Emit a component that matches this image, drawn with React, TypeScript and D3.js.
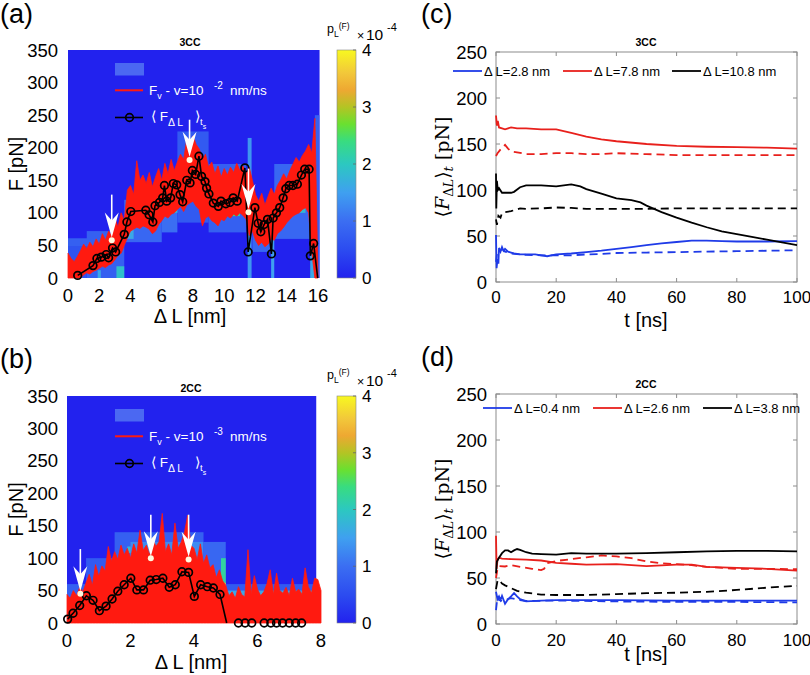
import React from 'react';
import * as d3 from 'd3';

// ---------------- DATA ----------------
// colour map of p_L(F) (x10^-4)
const cmapStops = [0, 0.5, 1, 1.5, 2, 2.4, 2.7, 3, 3.3, 3.6, 4];
const cmapColors = ['#2222ee', '#2c4cf0', '#3b6ef2', '#3fa0f0', '#2cc8c0', '#38dc80', '#6ae030', '#b4c424', '#eea832', '#f2c83a', '#f8f820'];
const colorbarTicks = [0, 1, 2, 3, 4];

// heat-map cells: [ΔL0, ΔL1, F0, F1, p_L (x10^-4)]
const heatA: [number, number, number, number, number][] = [
  [0, 1.2, 0, 58, 0.6], [0, 1.85, 49, 61, 0.8], [1.2, 3.6, 0, 72, 0.8], [1.9, 2.1, 0, 12, 1.6],
  [3.1, 3.6, 0, 18, 1.9], [3.6, 6.0, 55, 120, 0.9], [3.8, 4.2, 60, 80, 1.6], [6.0, 7.0, 70, 150, 1.0],
  [6.5, 7.5, 100, 130, 1.8], [7.0, 9.0, 85, 225, 0.7], [7.3, 8.0, 120, 140, 2.2], [9.0, 11.4, 70, 175, 0.8],
  [9.4, 11.0, 95, 110, 2.3], [11.5, 11.75, 0, 215, 1.4], [11.8, 13.0, 40, 110, 0.9], [12.0, 12.5, 60, 80, 1.8],
  [13.0, 13.2, 0, 60, 1.5], [13.2, 15.5, 60, 175, 0.9], [14.0, 15.2, 100, 125, 1.8], [15.5, 15.8, 0, 55, 1.6],
  [15.8, 16.1, 0, 250, 0.8],
];
const heatB: [number, number, number, number, number][] = [
  [0, 0.6, 0, 60, 0.8], [0.6, 1.5, 0, 100, 0.7], [1.5, 4.3, 0, 140, 0.8], [1.9, 2.2, 108, 118, 1.8],
  [2.0, 4.3, 95, 125, 1.3], [4.3, 5.0, 0, 125, 0.9], [4.85, 5.0, 60, 100, 2.2], [4.85, 5.0, 50, 62, 3.5],
  [5.0, 7.85, 0, 60, 0.7], [5.0, 7.85, 35, 50, 1.6], [1.45, 1.55, 5, 22, 3.6], [1.2, 1.3, 5, 15, 2.5],
  [0.9, 1.0, 0, 8, 3.8],
];

// red force trace F_v (a): upper / lower envelope every 0.2 nm from 0 to 16
const redHiA = [38, 30, 25, 33, 42, 52, 45, 55, 48, 60, 52, 68, 58, 72, 64, 92, 78, 100, 88, 135,
  142, 128, 180, 150, 158, 145, 162, 140, 155, 168, 150, 176, 160, 182, 165, 178, 190, 182, 213, 196,
  218, 205, 198, 182, 190, 170, 178, 160, 172, 155, 168, 158, 170, 162, 176, 165, 172, 160, 170, 150,
  128, 118, 130, 112, 125, 138, 128, 142, 150, 160, 152, 165, 175, 185, 178, 188, 195, 205, 192, 245, 0];
const redLoA = [0, 0, 0, 0, 0, 5, 8, 6, 10, 12, 15, 18, 16, 20, 22, 28, 35, 38, 50, 62,
  72, 75, 78, 76, 80, 78, 75, 68, 72, 82, 88, 95, 92, 98, 100, 105, 110, 102, 112, 115,
  118, 110, 105, 80, 92, 95, 88, 85, 80, 90, 88, 95, 92, 98, 95, 100, 96, 90, 65, 72,
  58, 50, 55, 48, 52, 60, 58, 68, 72, 78, 85, 90, 95, 98, 100, 105, 108, 100, 40, 0, 0];
// red force trace (b): upper envelope every 0.1 nm from 0 to 8
const redHiB = [44, 38, 50, 42, 55, 48, 62, 75, 58, 90, 72, 88, 80, 118, 95, 110, 98, 120, 105, 115,
  100, 122, 108, 143, 112, 120, 105, 130, 118, 125, 169, 110, 122, 105, 154, 115, 125, 140, 166, 120,
  115, 98, 122, 92, 105, 85, 90, 70, 82, 65, 58, 42, 48, 38, 56, 44, 40, 113, 45, 73,
  52, 42, 48, 61, 82, 44, 77, 50, 46, 55, 42, 69, 48, 52, 44, 85, 56, 46, 69, 67, 50];

// <F_ΔL>_ts : [ΔL, F, kind]  kind 1 = marker+line, 0 = line only, 2 = marker only
const meanA: [number, number, number][] = [
  [0.62, 4, 1], [1.6, 19, 1], [1.85, 30, 1], [2.13, 32, 1], [2.45, 36, 1], [2.6, 31, 1], [2.85, 46, 1], [3.05, 40, 1],
  [3.6, 67, 1], [3.77, 86, 1], [4.02, 102, 1], [4.98, 104, 1], [5.19, 97, 1], [5.43, 86, 1], [5.57, 111, 1], [5.85, 116, 1],
  [6.06, 123, 1], [6.17, 142, 1], [6.32, 118, 1], [6.57, 123, 1], [6.74, 145, 1], [6.96, 143, 1], [7.17, 128, 1], [7.34, 117, 1],
  [7.6, 150, 1], [7.81, 146, 1], [7.96, 165, 1], [8.17, 159, 1], [8.38, 187, 1], [8.55, 156, 1], [8.77, 148, 1], [8.87, 138, 1],
  [9.02, 129, 1], [9.3, 115, 1], [9.62, 110, 1], [9.79, 118, 1], [10.1, 114, 1], [10.36, 116, 1], [10.57, 123, 1], [10.83, 118, 1],
  [11.32, 169, 1], [11.53, 40, 1], [11.96, 108, 1], [12.17, 84, 1], [12.34, 71, 1], [12.55, 82, 1], [12.77, 90, 1], [13.02, 37, 1],
  [13.13, 92, 1], [13.34, 100, 1], [13.55, 108, 1], [13.77, 123, 1], [13.94, 137, 1], [14.15, 142, 1], [14.4, 142, 1], [14.68, 144, 1],
  [14.94, 158, 1], [15.15, 167, 1], [15.43, 167, 1], [15.51, 34, 1], [15.72, 53, 1], [15.98, 0, 0],
];
const meanB: [number, number, number][] = [
  [0.02, 6, 1], [0.19, 15, 1], [0.4, 27, 1], [0.61, 42, 1], [0.82, 35, 1], [1.02, 19, 1], [1.23, 26, 1], [1.42, 37, 1],
  [1.6, 49, 1], [1.8, 59, 1], [2.01, 69, 1], [2.2, 51, 1], [2.41, 51, 1], [2.62, 66, 1], [2.81, 67, 1], [3.02, 69, 1],
  [3.22, 55, 1], [3.41, 59, 1], [3.62, 79, 1], [3.83, 78, 1], [4.01, 41, 1], [4.21, 59, 1], [4.42, 56, 1], [4.61, 54, 1],
  [4.82, 44, 1], [5.03, 0, 0], [5.4, 0, 2], [5.61, 0, 2], [5.82, 0, 2], [6.21, 0, 2], [6.42, 0, 2], [6.6, 0, 2],
  [6.79, 0, 2], [7.0, 0, 2], [7.2, 0, 2], [7.39, 0, 2],
];

// white arrows: [ΔL, shaft top F, tip F, dot F]
const arrowsA: [number, number, number, number][] = [[2.8, 128, 62, 58], [7.78, 243, 186, 181], [11.55, 168, 106, 101]];
const arrowsB: [number, number, number, number][] = [[0.42, 114, 49, 45], [2.64, 167, 103, 100], [3.83, 167, 102, 98]];

const xTicksA = [0, 2, 4, 6, 8, 10, 12, 14, 16];
const xTicksB = [0, 2, 4, 6, 8];
const fTicks = [0, 50, 100, 150, 200, 250, 300, 350];
const tTicks = [0, 20, 40, 60, 80, 100];
const ctTicks = [0, 50, 100, 150, 200, 250];

// (c) 3CC  <F_ΔL>_t  : [t, F]
const cBlue: [number, number][] = [[0, 51], [0.2, 15], [0.5, 25], [0.8, 20], [1, 37], [1.5, 33], [2, 38], [2.5, 34], [3, 36], [4, 33], [5, 32], [6, 31], [8, 30], [10, 30], [13, 30], [17, 28], [20, 30], [25, 31], [30, 32.5], [35, 34], [40, 36], [45, 38], [50, 40], [55, 42], [60, 43.5], [65, 45], [70, 45], [75, 44.5], [80, 44], [90, 44], [100, 44.5]];
const cBlueDash: [number, number][] = [[0, 22], [0.3, 30], [1, 33], [2, 36], [3, 33], [5, 31], [8, 30], [10, 29.5], [15, 29], [20, 29], [25, 29], [30, 30], [35, 30.5], [40, 31.5], [50, 32], [60, 32.5], [70, 33], [80, 33.5], [90, 34], [100, 34.5]];
const cRed: [number, number][] = [[0, 181], [0.3, 170], [0.6, 175], [1, 168], [2, 167], [3, 166], [5, 168], [7, 167], [10, 167], [15, 166], [20, 166], [25, 162], [30, 158], [35, 155], [40, 153], [50, 150], [60, 148], [70, 147], [80, 146.5], [90, 146], [100, 145]];
const cRedDash: [number, number][] = [[0, 137], [0.5, 140], [1, 142], [2, 146], [3, 149], [4, 145], [5, 142], [7, 141], [10, 139], [15, 139], [20, 140], [25, 140], [30, 139], [35, 139], [40, 140], [50, 139], [60, 138], [70, 138], [80, 138], [90, 138], [100, 138]];
const cBlack: [number, number][] = [[0, 118], [0.1, 80], [0.3, 110], [0.6, 100], [1, 102], [2, 97], [3, 97], [5, 97], [6, 98], [8, 103], [10, 105], [15, 105], [20, 104], [25, 106], [28, 104], [30, 101], [35, 96], [40, 91], [45, 89], [48, 86.5], [50, 83], [55, 76], [60, 70], [65, 64.5], [70, 59.5], [75, 55], [80, 52], [85, 49], [90, 46], [95, 43], [100, 40]];
const cBlackDash: [number, number][] = [[0, 68], [0.3, 62], [0.8, 72], [1.5, 70], [2, 75], [3, 76], [5, 77], [8, 80], [10, 79.5], [15, 80], [20, 81], [25, 80.5], [30, 79.5], [40, 79.5], [50, 79.5], [60, 80], [70, 80], [80, 80], [90, 80], [100, 80]];
const cLegend = ['Δ L=2.8 nm', 'Δ L=7.8 nm', 'Δ L=10.8 nm'];

// (d) 2CC
const dBlue: [number, number][] = [[0, 35], [0.5, 27], [1, 30], [1.5, 26], [2, 30.5], [3, 22], [4, 27], [5, 30], [6, 33.5], [7, 30], [8, 27], [10, 24.5], [15, 25.5], [20, 26], [30, 26], [40, 26], [60, 25.5], [80, 25.5], [100, 25.5]];
const dBlueDash: [number, number][] = [[0, 15], [0.5, 30], [1, 26], [2, 25], [5, 28], [8, 26], [10, 25], [20, 25.5], [40, 24.5], [60, 24], [80, 24], [100, 23.5]];
const dRed: [number, number][] = [[0, 96], [0.2, 60], [0.5, 70], [1, 72], [2, 71], [5, 70.5], [10, 70], [15, 69], [20, 66.5], [25, 65.5], [30, 64.5], [40, 65], [50, 63], [60, 64.5], [65, 64.5], [70, 62], [80, 61], [90, 60], [100, 58]];
const dRedDash: [number, number][] = [[0, 50], [0.5, 60], [1, 63], [3, 62.5], [5, 64], [8, 62], [12, 60], [15, 58.5], [16, 60], [17, 66], [20, 68.5], [25, 70.5], [30, 72.5], [35, 74.5], [40, 73.5], [45, 71.5], [50, 68], [55, 66], [60, 65], [65, 64], [70, 62], [80, 60], [90, 60], [100, 59.5]];
const dBlack: [number, number][] = [[0, 55], [0.3, 68], [1, 72], [2, 77], [3, 80], [4, 80], [5, 78], [6, 80], [7, 81.5], [8, 80.5], [10, 78], [12, 76.5], [15, 76], [20, 75.5], [25, 77], [30, 76.5], [40, 76.5], [50, 77], [60, 78], [70, 79], [80, 79.5], [90, 79.5], [100, 79]];
const dBlackDash: [number, number][] = [[0, 38], [0.5, 47], [1, 48], [2, 44], [3, 42], [5, 39], [7, 36], [10, 34], [15, 32], [20, 31.5], [30, 31.5], [40, 32.5], [50, 33.5], [60, 34], [70, 35], [80, 37], [90, 39.5], [100, 41.5]];
const dLegend = ['Δ L=0.4 nm', 'Δ L=2.6 nm', 'Δ L=3.8 nm'];

// ---------------- STYLE ----------------
const SANS = '"Liberation Sans", Arial, Helvetica, sans-serif';
const SERIF = '"DejaVu Serif", "Liberation Serif", serif';
const BLUE = '#1f3be8';
const RED = '#e8201c';
const TICK = 18.5;
const LABEL = 20;
const cmap = d3.scaleLinear<string>().domain(cmapStops).range(cmapColors);

type HeatProps = {
  xMax: number; left: number; right: number; top: number; bottom: number; heatEnd: number;
  cells: [number, number, number, number, number][]; redHi: number[]; redLo: number[] | null; redStep: number;
  mean: [number, number, number][]; arrows: [number, number, number, number][]; xTicks: number[];
  title: string; exp: string; label: string; labelY: number; xLabelY: number; gid: string;
};

function HeatPanel(p: HeatProps) {
  const x = d3.scaleLinear().domain([0, p.xMax]).range([p.left, p.right]);
  const y = d3.scaleLinear().domain([0, 350]).range([p.bottom, p.top]);
  const dy = p.top - 50;
  const pts = p.redHi.map((h, i) => ({ x: i * p.redStep, hi: h, lo: p.redLo ? p.redLo[i] : 0 }));
  const area = d3.area<any>().x(d => x(d.x)).y0(d => y(d.lo)).y1(d => y(d.hi)).curve(d3.curveLinear);
  const meanLine = d3.line<[number, number, number]>().x(d => x(d[0])).y(d => y(d[1]));
  const cbX = 337, cbW = 19;
  const cy = d3.scaleLinear().domain([0, 4]).range([p.bottom, p.top]);
  const cx = (p.left + p.right) / 2;
  return (
    <g>
      <defs>
        <linearGradient id={p.gid} x1="0" y1="1" x2="0" y2="0">
          {cmapStops.map((s, i) => <stop key={i} offset={s / 4} stopColor={cmapColors[i]} />)}
        </linearGradient>
        <clipPath id={p.gid + 'c'}>
          <rect x={x(0)} y={p.top} width={x(p.heatEnd) - x(0)} height={p.bottom - p.top} />
        </clipPath>
      </defs>
      <text x={0} y={p.labelY} fontFamily={SANS} fontSize={27}>{p.label}</text>
      <rect x={x(0)} y={p.top} width={x(p.heatEnd) - x(0)} height={p.bottom - p.top} fill={cmap(0)} />
      <g clipPath={`url(#${p.gid}c)`}>
        {p.cells.map((c, i) => (
          <rect key={i} x={x(c[0])} y={y(c[3])} width={x(c[1]) - x(c[0])} height={y(c[2]) - y(c[3])} fill={cmap(c[4])} />
        ))}
      </g>
      <path d={area(pts) || ''} fill="#ff1a10" stroke="#ff1a10" strokeWidth={0.8} strokeLinejoin="miter" />
      <path d={meanLine(p.mean.filter(d => d[2] !== 2)) || ''} fill="none" stroke="#000" strokeWidth={1.6} />
      {p.mean.filter(d => d[2] !== 0).map((d, i) => (
        <circle key={i} cx={x(d[0])} cy={y(d[1])} r={3.8} fill="none" stroke="#000" strokeWidth={1.7} />
      ))}
      {p.arrows.map((a, i) => {
        const ax = x(a[0]);
        const tip = y(a[2]);
        return (
          <g key={i}>
            <line x1={ax} x2={ax} y1={y(a[1])} y2={tip - 10} stroke="#fff" strokeWidth={1.6} />
            <path d={`M${ax},${tip} L${ax - 7},${tip - 25} L${ax},${tip - 17} L${ax + 7},${tip - 25} Z`} fill="#fff" />
            <circle cx={ax} cy={y(a[3])} r={3} fill="#fffbe0" />
          </g>
        );
      })}
      {/* legend */}
      <rect x={115} y={63 + dy} width={29} height={12.5} fill="#4b68f2" />
      <line x1={115} x2={143} y1={90.3 + dy} y2={90.3 + dy} stroke="#ff1a10" strokeWidth={2} />
      <line x1={115} x2={143} y1={117.5 + dy} y2={117.5 + dy} stroke="#000" strokeWidth={1.6} />
      <circle cx={129.5} cy={117.5 + dy} r={3.8} fill="none" stroke="#000" strokeWidth={1.7} />
      <text x={149} y={94.5 + dy} fill="#fff" fontFamily={SANS} fontSize={13.5}>
        <tspan>F</tspan><tspan fontSize={9} dy={4.5}>v</tspan><tspan dy={-4.5}> - v=10</tspan>
        <tspan x={214} dy={-5.5} fontSize={10}>{p.exp}</tspan><tspan x={230} dy={5.5}>nm/ns</tspan>
      </text>
      <text x={151} y={121 + dy} fill="#fff" fontFamily={SANS} fontSize={13.5}>
        <tspan>⟨ F</tspan><tspan fontSize={10.5} dy={5}>Δ L</tspan><tspan x={195} dy={-5}>⟩</tspan>
        <tspan fontSize={9.5} dy={3.5}>t</tspan><tspan fontSize={7} dy={4}>s</tspan>
      </text>
      {/* title */}
      <text x={cx - 3} y={p.top - 4} textAnchor="middle" fontFamily={SANS} fontSize={10.5} fontWeight="bold">{p.title}</text>
      {/* axes ticks */}
      {fTicks.map(t => (
        <text key={t} x={58} y={y(t) + 6.5} textAnchor="end" fontFamily={SANS} fontSize={TICK}>{t}</text>
      ))}
      {p.xTicks.map(t => (
        <text key={t} x={x(t)} y={p.bottom + 23.5} textAnchor="middle" fontFamily={SANS} fontSize={TICK}>{t}</text>
      ))}
      <text x={cx - 3} y={p.xLabelY} textAnchor="middle" fontFamily={SANS} fontSize={LABEL}>Δ L [nm]</text>
      <text transform={`translate(23,${(p.top + p.bottom) / 2}) rotate(-90)`} textAnchor="middle" fontFamily={SANS} fontSize={LABEL}>F [pN]</text>
      {/* colorbar */}
      <rect x={cbX} y={p.top} width={cbW} height={p.bottom - p.top} fill={`url(#${p.gid})`} stroke="#888" strokeWidth={0.6} />
      {colorbarTicks.map(t => (
        <g key={t}>
          <line x1={cbX + cbW - 3} x2={cbX + cbW} y1={cy(t)} y2={cy(t)} stroke="#666" strokeWidth={0.8} />
          <text x={362} y={cy(t) + 6} fontFamily={SANS} fontSize={17}>{t}</text>
        </g>
      ))}
      <text x={327} y={33 + dy} fontFamily={SANS} fontSize={12.5}>
        <tspan>p</tspan><tspan fontSize={8.5} dy={4}>L</tspan><tspan fontSize={8.5} dy={-8}>(F)</tspan>
      </text>
      <text x={357} y={39.5 + dy} fontFamily={SANS} fontSize={15.5}>
        <tspan fontSize={12.5}>×</tspan><tspan x={366}>10</tspan><tspan x={387} dy={-8.5} fontSize={11}>-4</tspan>
      </text>
    </g>
  );
}

type LineProps = {
  top: number; bottom: number; label: string; title: string; labelY: number; xTickY: number; xLabelY: number;
  series: { d: [number, number][]; c: string; dash: boolean }[];
  legend: string[]; legendX: number[]; legendY: number;
};

function LinePanel(p: LineProps) {
  const x = d3.scaleLinear().domain([0, 100]).range([496, 797]);
  const y = d3.scaleLinear().domain([0, 250]).range([p.bottom, p.top]);
  const line = d3.line<[number, number]>().x(d => x(d[0])).y(d => y(d[1]));
  const legendColors = [BLUE, RED, '#000'];
  const axisCol = '#8c8c8c';
  return (
    <g>
      <text x={421} y={p.labelY} fontFamily={SANS} fontSize={27}>{p.label}</text>
      <rect x={x(0)} y={p.top} width={x(100) - x(0)} height={p.bottom - p.top} fill="#fff" stroke={axisCol} strokeWidth={1} />
      {tTicks.map(t => (
        <g key={t}>
          <line x1={x(t)} x2={x(t)} y1={p.bottom} y2={p.bottom - 4} stroke={axisCol} />
          <line x1={x(t)} x2={x(t)} y1={p.top} y2={p.top + 4} stroke={axisCol} />
          <text x={x(t)} y={p.xTickY} textAnchor="middle" fontFamily={SANS} fontSize={17}>{t}</text>
        </g>
      ))}
      {ctTicks.map(t => (
        <g key={t}>
          <line x1={x(0)} x2={x(0) + 4} y1={y(t)} y2={y(t)} stroke={axisCol} />
          <line x1={x(100)} x2={x(100) - 4} y1={y(t)} y2={y(t)} stroke={axisCol} />
          <text x={487} y={y(t) + 6.5} textAnchor="end" fontFamily={SANS} fontSize={TICK}>{t}</text>
        </g>
      ))}
      {p.series.map((s, i) => (
        <path key={i} d={line(s.d) || ''} fill="none" stroke={s.c} strokeWidth={1.8} strokeDasharray={s.dash ? '8,5' : undefined} />
      ))}
      {p.legend.map((l, i) => (
        <g key={i}>
          <line x1={p.legendX[i]} x2={p.legendX[i] + 29} y1={p.legendY} y2={p.legendY} stroke={legendColors[i]} strokeWidth={1.8} />
          <text x={p.legendX[i] + 31} y={p.legendY + 4.5} fontFamily={SANS} fontSize={13}>{l}</text>
        </g>
      ))}
      <text x={646} y={p.top - 6} textAnchor="middle" fontFamily={SANS} fontSize={10.5} fontWeight="bold">{p.title}</text>
      <text x={646} y={p.xLabelY} textAnchor="middle" fontFamily={SANS} fontSize={LABEL}>t [ns]</text>
      <text transform={`translate(449,${(p.top + p.bottom) / 2}) rotate(-90)`} textAnchor="middle" fontFamily={SERIF} fontSize={19}>
        <tspan>⟨</tspan><tspan fontStyle="italic">F</tspan><tspan fontSize={13} dy={4}>Δ</tspan><tspan fontSize={13} fontStyle="italic">L</tspan>
        <tspan dy={-4}>⟩</tspan><tspan fontSize={13} fontStyle="italic" dy={4}>t</tspan><tspan dy={-4}> [pN]</tspan>
      </text>
    </g>
  );
}

export default function App() {
  return (
    <svg width={810} height={675} style={{ position: 'absolute', left: 0, top: 0, background: '#fff' }}>
      <HeatPanel xMax={16} left={68} right={318} top={50} bottom={278} heatEnd={16.1} cells={heatA}
        redHi={redHiA} redLo={redLoA} redStep={0.2} mean={meanA} arrows={arrowsA} xTicks={xTicksA}
        title="3CC" exp="-2" label="(a)" labelY={23} xLabelY={323} gid="gA" />
      <HeatPanel xMax={8} left={67} right={321} top={396} bottom={623} heatEnd={7.85} cells={heatB}
        redHi={redHiB} redLo={null} redStep={0.1} mean={meanB} arrows={arrowsB} xTicks={xTicksB}
        title="2CC" exp="-3" label="(b)" labelY={368} xLabelY={669} gid="gB" />
      <LinePanel top={52} bottom={282} label="(c)" title="3CC" labelY={23} xTickY={302.5} xLabelY={327}
        series={[
          { d: cBlueDash, c: BLUE, dash: true }, { d: cRedDash, c: RED, dash: true }, { d: cBlackDash, c: '#000', dash: true },
          { d: cBlue, c: BLUE, dash: false }, { d: cRed, c: RED, dash: false }, { d: cBlack, c: '#000', dash: false },
        ]}
        legend={cLegend} legendX={[453, 563, 672]} legendY={71} />
      <LinePanel top={394} bottom={624} label="(d)" title="2CC" labelY={366} xTickY={646} xLabelY={661}
        series={[
          { d: dBlueDash, c: BLUE, dash: true }, { d: dRedDash, c: RED, dash: true }, { d: dBlackDash, c: '#000', dash: true },
          { d: dBlue, c: BLUE, dash: false }, { d: dRed, c: RED, dash: false }, { d: dBlack, c: '#000', dash: false },
        ]}
        legend={dLegend} legendX={[483, 593, 703]} legendY={408} />
    </svg>
  );
}
